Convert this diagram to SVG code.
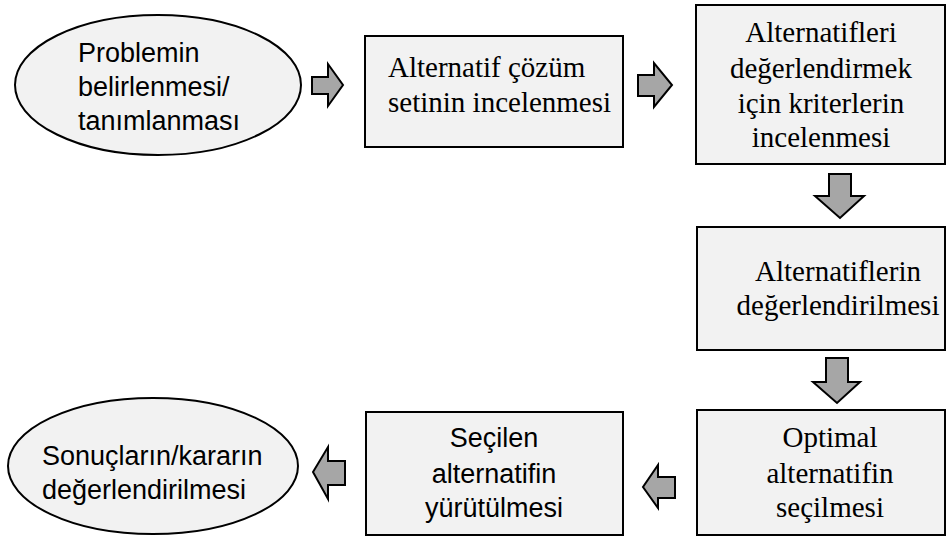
<svg xmlns="http://www.w3.org/2000/svg" width="947" height="538" viewBox="0 0 947 538">
  <style>
    .shape { fill: #f2f2f2; stroke: #000; stroke-width: 2; }
    .arrow { fill: #a6a6a6; stroke: #000; stroke-width: 2; stroke-linejoin: miter; }
    .sans { font-family: "Liberation Sans", Arial, sans-serif; font-size: 27px; fill: #000; }
    .serif { font-family: "Liberation Serif", "Times New Roman", serif; font-size: 29px; fill: #000; }
    .mid { text-anchor: middle; }
  </style>
  <rect width="947" height="538" fill="#fff"/>

  <!-- block arrows between the steps -->
  <g id="connectors">
    <polygon class="arrow" points="312,77 328,77 328,64 343,85 328,106 328,94 312,94"/>
    <polygon class="arrow" points="638,75 654,75 654,63 672,85 654,107 654,96 638,96"/>
    <polygon class="arrow" points="829,174 851,174 851,196 864,196 840,218 815,196 829,196"/>
    <polygon class="arrow" points="826,358 848,358 848,382 860,382 837,403 813,382 826,382"/>
    <polygon class="arrow" points="675,477 658,477 658,465 643,487 658,508 658,498 675,498"/>
    <polygon class="arrow" points="345,461 328,461 328,447 313,472 328,499 328,485 345,485"/>
  </g>

  <g id="problem">
    <ellipse class="shape" cx="158" cy="85" rx="143" ry="70"/>
    <text class="sans" x="78" y="62">Problemin</text>
    <text class="sans" x="78" y="96">belirlenmesi/</text>
    <text class="sans" x="78" y="130">tanımlanması</text>
  </g>

  <g id="alternatives">
    <rect class="shape" x="365" y="36" width="258" height="111"/>
    <text class="serif" x="388" y="77">Alternatif çözüm</text>
    <text class="serif" x="388" y="112">setinin incelenmesi</text>
  </g>

  <g id="criteria">
    <rect class="shape" x="696" y="5" width="249" height="159"/>
    <text class="serif mid" x="821" y="42">Alternatifleri</text>
    <text class="serif mid" x="821" y="78">değerlendirmek</text>
    <text class="serif mid" x="821" y="113">için kriterlerin</text>
    <text class="serif mid" x="821" y="147">incelenmesi</text>
  </g>

  <g id="evaluation">
    <rect class="shape" x="697" y="227" width="248" height="123"/>
    <text class="serif mid" x="838" y="281">Alternatiflerin</text>
    <text class="serif mid" x="838" y="315">değerlendirilmesi</text>
  </g>

  <g id="optimal">
    <rect class="shape" x="697" y="410" width="248" height="125"/>
    <text class="serif mid" x="830" y="447">Optimal</text>
    <text class="serif mid" x="830" y="483">alternatifin</text>
    <text class="serif mid" x="830" y="517">seçilmesi</text>
  </g>

  <g id="execution">
    <rect class="shape" x="366" y="412" width="257" height="123"/>
    <text class="sans mid" x="494" y="447">Seçilen</text>
    <text class="sans mid" x="494" y="483">alternatifin</text>
    <text class="sans mid" x="494" y="517">yürütülmesi</text>
  </g>

  <g id="review">
    <ellipse class="shape" cx="153" cy="466" rx="145" ry="68"/>
    <text class="sans" x="42" y="465" font-size="28">Sonuçların/kararın</text>
    <text class="sans" x="42" y="499" font-size="28">değerlendirilmesi</text>
  </g>
</svg>
